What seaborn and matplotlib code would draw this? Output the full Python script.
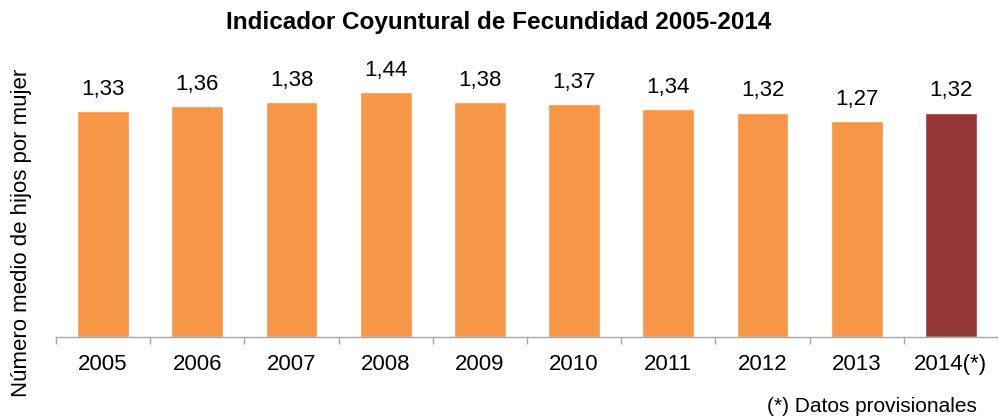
import matplotlib
matplotlib.use("Agg")
import matplotlib.pyplot as plt
import seaborn as sns
import numpy as np

years = ["2005", "2006", "2007", "2008", "2009", "2010", "2011", "2012", "2013", "2014(*)"]
values = [1.33, 1.36, 1.38, 1.44, 1.38, 1.37, 1.34, 1.32, 1.27, 1.32]
labels = ["1,33", "1,36", "1,38", "1,44", "1,38", "1,37", "1,34", "1,32", "1,27", "1,32"]
colors = ["#F79646"] * 9 + ["#953735"]

sns.set_theme(style="white")
plt.rcParams["font.family"] = ["Liberation Sans", "DejaVu Sans"]
plt.rcParams["text.color"] = "black"
plt.rcParams["xtick.color"] = "black"

fig = plt.figure(figsize=(9.98, 4.19), dpi=100)
ax = fig.add_axes([56 / 998, (419 - 337) / 419, 1 - 56 / 998, 272 / 419])

sns.barplot(x=years, y=values, hue=years, palette=colors, legend=False,
            width=0.55, saturation=1, ax=ax)

# value labels above the bars
for i, (v, lab) in enumerate(zip(values, labels)):
    ax.text(i, v + 0.095, lab, ha="center", va="baseline", fontsize=16)

ax.set_ylim(0, 1.6)
ax.set_xlim(-0.5, 9.5)
ax.set_yticks([])
for s in ["top", "right", "left"]:
    ax.spines[s].set_visible(False)
ax.spines["bottom"].set_color("#a6a6a6")
ax.spines["bottom"].set_linewidth(1)

ax.set_xticks(np.arange(10))
ax.set_xticklabels(years, fontsize=16)
ax.tick_params(axis="x", length=0, pad=12.5, labelcolor="black")
ax.set_xticks(np.arange(-0.5, 10, 1), minor=True)
ax.tick_params(axis="x", which="minor", length=5, color="#a6a6a6", width=1, bottom=True)

fig.text(22 / 998, 1 - 233 / 419, "Número medio de hijos por mujer", rotation=90,
         ha="center", va="center", fontsize=16)
fig.suptitle("Indicador Coyuntural de Fecundidad 2005-2014", y=1 - 22 / 419,
             va="center", fontsize=17.5, fontweight="bold")
fig.text(977 / 998, 1 - 406 / 419, "(*) Datos provisionales", ha="right",
         va="center", fontsize=15)

fig.savefig("out.png", dpi=100)
